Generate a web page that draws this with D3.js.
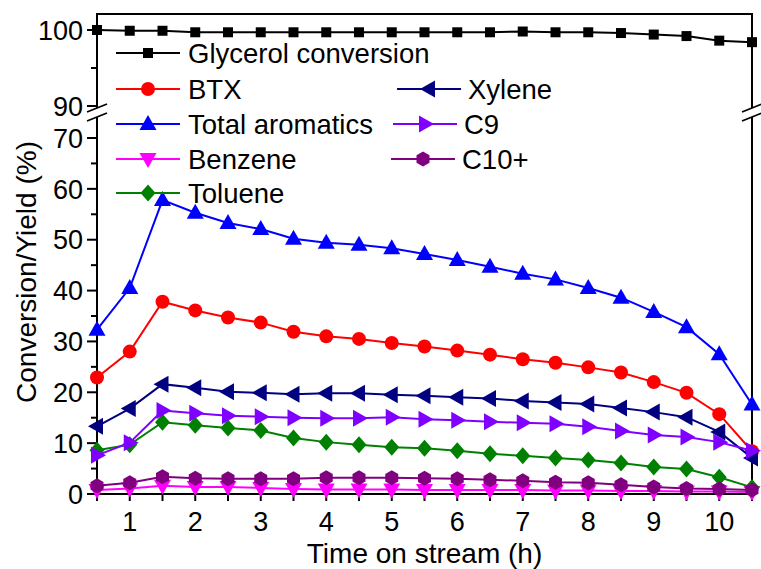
<!DOCTYPE html>
<html><head><meta charset="utf-8">
<script src="https://cdn.jsdelivr.net/npm/d3@7"></script>
<style>html,body{margin:0;padding:0;background:#fff;} svg{display:block;font-family:Arial,"Liberation Sans",sans-serif;}</style>
</head><body>
<script>
const hours = [0.5,1,1.5,2,2.5,3,3.5,4,4.5,5,5.5,6,6.5,7,7.5,8,8.5,9,9.5,10,10.5];
const glycerol = [100,99.9,99.9,99.7,99.7,99.7,99.7,99.7,99.7,99.7,99.7,99.7,99.7,99.8,99.7,99.7,99.6,99.4,99.2,98.6,98.4];
const btx = [22.9,28.0,37.8,36.1,34.7,33.7,31.9,31.0,30.5,29.7,29.0,28.2,27.4,26.5,25.8,24.9,23.9,22.0,19.9,15.7,8.4];
const totalAromatics = [32.3,40.5,57.8,55.3,53.3,52.1,50.2,49.4,49.0,48.3,47.2,46.0,44.7,43.3,42.2,40.5,38.6,35.8,32.8,27.5,17.6];
const benzene = [0.8,1.1,1.6,1.4,1.4,1.2,1.0,0.9,0.9,0.9,0.8,0.8,0.8,0.8,0.7,0.7,0.6,0.6,0.5,0.5,0.4];
const toluene = [8.6,9.7,14.1,13.5,13.0,12.5,11.0,10.2,9.7,9.2,9.0,8.5,7.9,7.5,7.1,6.7,6.1,5.3,4.9,3.3,1.3];
const xylene = [13.3,16.8,21.6,20.9,20.1,19.9,19.6,19.8,19.8,19.5,19.3,19.0,18.8,18.3,18.0,17.7,16.9,16.1,15.1,12.2,7.1];
const c9 = [7.6,10.1,16.4,15.9,15.4,15.2,15.0,14.9,14.9,15.1,14.7,14.5,14.2,14.0,13.8,13.2,12.4,11.6,11.2,10.2,8.5];
const c10 = [1.6,2.2,3.4,3.1,3.0,3.0,3.0,3.2,3.2,3.2,3.1,3.0,2.8,2.6,2.3,2.2,1.8,1.4,1.1,1.0,0.8];
const xTicks = [1,2,3,4,5,6,7,8,9,10];
const yLowTicks = [0,10,20,30,40,50,60,70];
const yHighTicks = [90,100];
const seriesNames = ["Glycerol conversion","BTX","Total aromatics","Benzene","Toluene","Xylene","C9","C10+"];
const seriesColors = ["#000000","#ff0000","#0000ff","#ff00ff","#008000","#000080","#8000ff","#800080"];
const seriesShapes = ["square","circle","up","down","diamond","left","right","hex"];

const W=761,H=569;
const L=97,R=752,T=14,B=494;
const svg=d3.select("body").append("svg").attr("width",W).attr("height",H);
svg.append("rect").attr("width",W).attr("height",H).attr("fill","#fff");

const x=d3.scaleLinear().domain([0.5,10.5]).range([L,R]);
const yLow=d3.scaleLinear().domain([0,70]).range([B,138]);
const yHigh=d3.scaleLinear().domain([90,100]).range([106,30]);
const breakLowTop=117, breakHighBottom=108;

function shapePath(shape){
  const p=d3.path();
  if(shape==="square"){p.rect(-5,-5,10,10);}
  else if(shape==="circle"){p.arc(0,0,7,0,2*Math.PI);}
  else if(shape==="up"){p.moveTo(0,-9);p.lineTo(8.5,6);p.lineTo(-8.5,6);p.closePath();}
  else if(shape==="down"){p.moveTo(0,9);p.lineTo(8.5,-6);p.lineTo(-8.5,-6);p.closePath();}
  else if(shape==="left"){p.moveTo(-9,0);p.lineTo(6,-8.5);p.lineTo(6,8.5);p.closePath();}
  else if(shape==="right"){p.moveTo(9,0);p.lineTo(-6,-8.5);p.lineTo(-6,8.5);p.closePath();}
  else if(shape==="diamond"){p.moveTo(0,-8.5);p.lineTo(7.5,0);p.lineTo(0,8.5);p.lineTo(-7.5,0);p.closePath();}
  else if(shape==="hex"){for(let i=0;i<6;i++){const a=Math.PI/6+i*Math.PI/3;const px=7.5*Math.cos(a),py=7.5*Math.sin(a);if(i===0)p.moveTo(px,py);else p.lineTo(px,py);}p.closePath();}
  return p.toString();
}

const seriesData=[glycerol,btx,totalAromatics,benzene,toluene,xylene,c9,c10];

const ax=svg.append("g").attr("stroke","#000").attr("stroke-width",2);
hours.forEach(h=>{
  ax.append("line").attr("x1",x(h)).attr("x2",x(h)).attr("y1",B).attr("y2",B+7);
});
svg.append("g").selectAll("text").data(xTicks).join("text")
  .attr("x",d=>x(d)).attr("y",531).attr("text-anchor","middle")
  .attr("font-size",27).text(d=>d);
d3.range(0,71,5).forEach(v=>{
  const major=v%10===0;
  ax.append("line").attr("x1",L-(major?10:6)).attr("x2",L).attr("y1",yLow(v)).attr("y2",yLow(v));
});
[90,95,100].forEach(v=>{
  const major=v%10===0;
  ax.append("line").attr("x1",L-(major?10:6)).attr("x2",L).attr("y1",yHigh(v)).attr("y2",yHigh(v));
});
svg.append("g").selectAll("text").data(yLowTicks).join("text")
  .attr("x",83).attr("y",d=>yLow(d)).attr("dy","0.36em").attr("text-anchor","end")
  .attr("font-size",27).text(d=>d);
svg.append("g").selectAll("text").data(yHighTicks).join("text")
  .attr("x",83).attr("y",d=>yHigh(d)).attr("dy","0.36em").attr("text-anchor","end")
  .attr("font-size",27).text(d=>d);

const fr=svg.append("g").attr("stroke","#000").attr("stroke-width",2).attr("fill","none");
fr.append("path").attr("d",`M${L},${breakHighBottom}V${T}H${R}V${breakHighBottom}`);
fr.append("path").attr("d",`M${L},${breakLowTop}V${B}H${R}V${breakLowTop}`);
[L,R].forEach(cx=>{
  [breakHighBottom,breakLowTop].forEach(cy=>{
    fr.append("line").attr("x1",cx-10).attr("y1",cy+4).attr("x2",cx+10).attr("y2",cy-4).attr("stroke-width",1.8);
  });
});

const lineLow=d3.line().x((d,i)=>x(hours[i])).y(d=>yLow(d));
const lineHigh=d3.line().x((d,i)=>x(hours[i])).y(d=>yHigh(d));
seriesData.forEach((arr,si)=>{
  const yy= si===0? yHigh: yLow;
  const g=svg.append("g");
  g.append("path").attr("d",(si===0?lineHigh:lineLow)(arr)).attr("fill","none")
    .attr("stroke",seriesColors[si]).attr("stroke-width",2);
  g.selectAll("path.m").data(arr).join("path").attr("class","m")
    .attr("transform",(d,i)=>`translate(${x(hours[i])},${yy(d)})`)
    .attr("d",shapePath(seriesShapes[si])).attr("fill",seriesColors[si]);
});

const legendPos=[
  {lx:116,ly:53,w:64,tx:188},
  {lx:116,ly:89,w:64,tx:188},
  {lx:116,ly:124,w:64,tx:188},
  {lx:116,ly:159,w:64,tx:188},
  {lx:116,ly:193,w:64,tx:188},
  {lx:397,ly:89,w:64,tx:468},
  {lx:393,ly:124,w:64,tx:464},
  {lx:391,ly:159,w:64,tx:462}
];
const lg=svg.append("g");
seriesNames.forEach((n,i)=>{
  const p=legendPos[i];
  lg.append("line").attr("x1",p.lx).attr("x2",p.lx+p.w).attr("y1",p.ly).attr("y2",p.ly)
    .attr("stroke",seriesColors[i]).attr("stroke-width",2);
  lg.append("path").attr("transform",`translate(${p.lx+p.w/2},${p.ly})`).attr("d",shapePath(seriesShapes[i])).attr("fill",seriesColors[i]);
  lg.append("text").attr("x",p.tx).attr("y",p.ly).attr("dy","0.36em").attr("font-size",27.5).text(n);
});

svg.append("text").attr("x",(L+R)/2).attr("y",563).attr("text-anchor","middle").attr("font-size",28).text("Time on stream (h)");
svg.append("text").attr("transform",`translate(36,${(B+T)/2+18}) rotate(-90)`).attr("text-anchor","middle").attr("font-size",28).text("Conversion/Yield (%)");
</script>
</body></html>
